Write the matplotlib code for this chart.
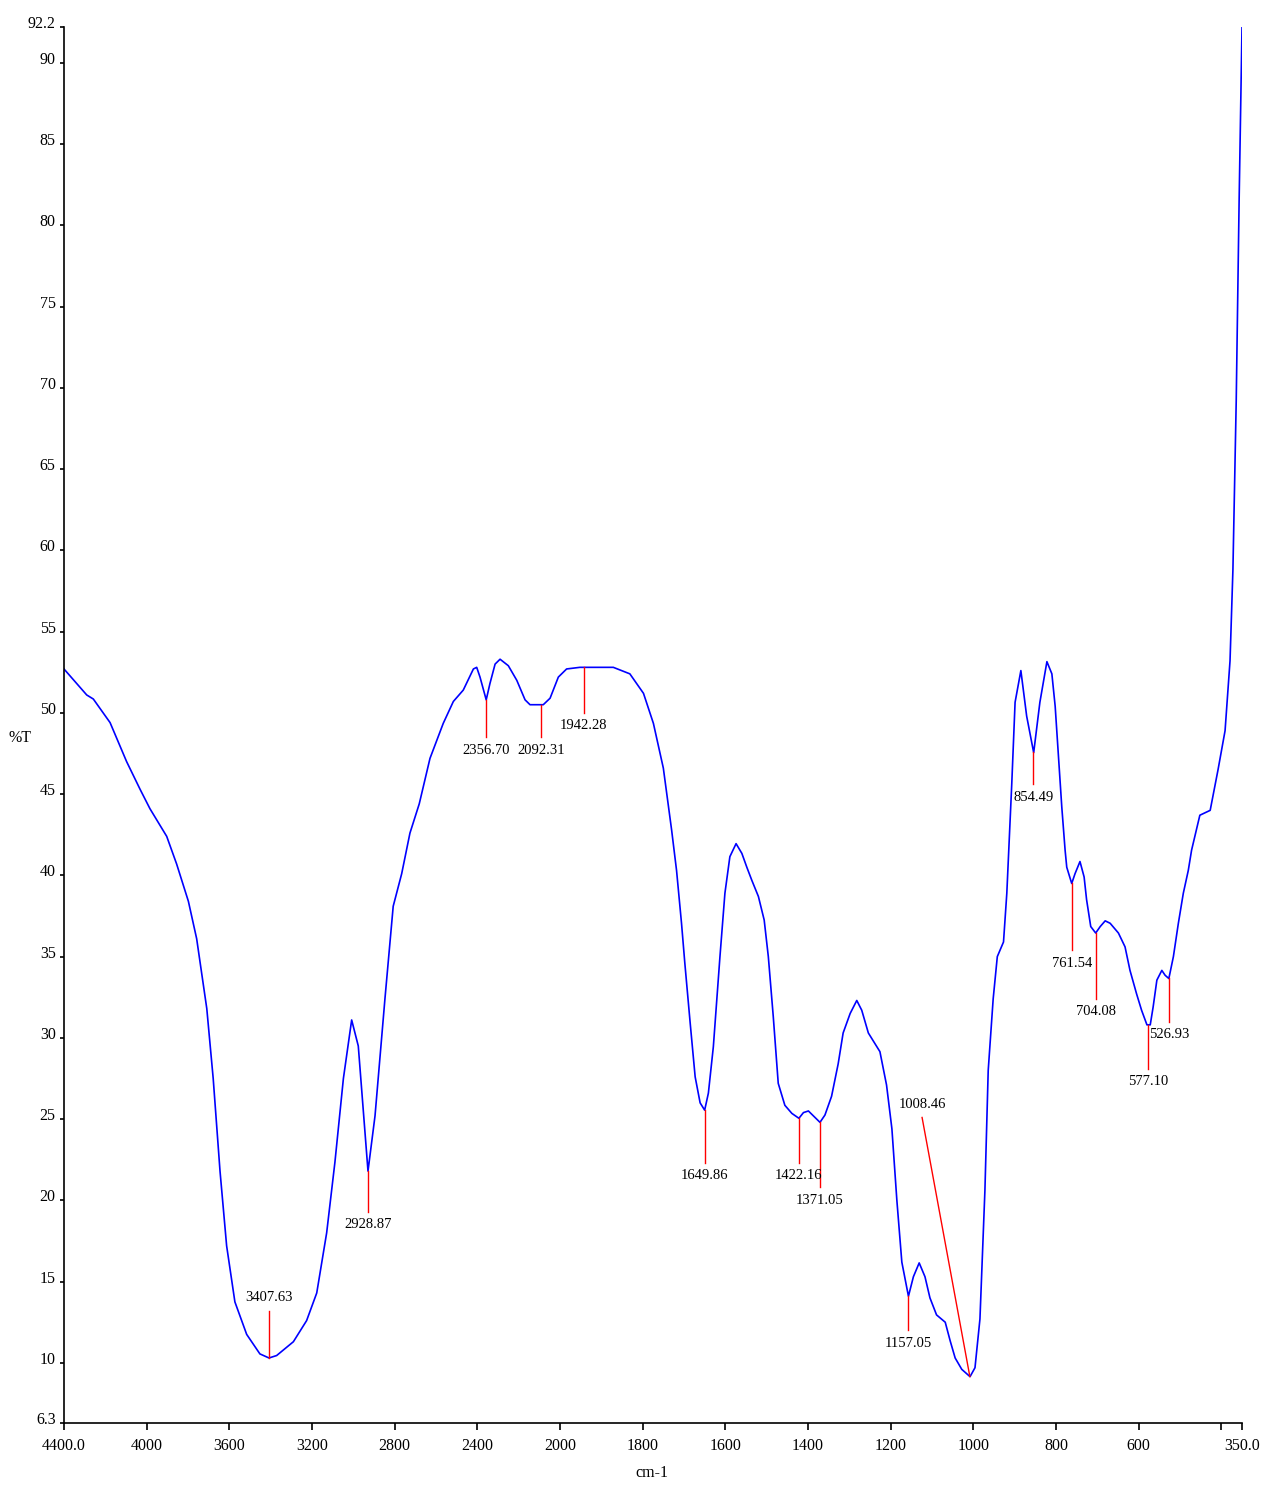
import numpy as np
import matplotlib
matplotlib.use("Agg")
import matplotlib.pyplot as plt
import matplotlib.transforms as mtransforms

plt.rcParams['font.family'] = ['Liberation Serif', 'DejaVu Serif']

# FTIR spectrum (wavenumber cm-1, %T)
wavenumber = [4400, 4290, 4258, 4177, 4097, 4032, 3984, 3903, 3855, 3798,
              3758, 3709, 3678, 3645, 3613, 3573, 3516, 3452, 3408, 3371,
              3290, 3226, 3177, 3129, 3089, 3048, 3008, 2976, 2929, 2895,
              2847, 2807, 2766, 2726, 2681,
              2629, 2565, 2516, 2468, 2419, 2403, 2387, 2357, 2339, 2314,
              2290, 2250, 2209, 2169, 2145, 2081, 2048, 2008, 1984, 1952,
              1871, 1831, 1798, 1774, 1750,
              1730, 1718, 1706, 1698, 1685, 1673, 1661, 1650, 1641, 1629,
              1613, 1601, 1589, 1574, 1560, 1548, 1536, 1520, 1506, 1496,
              1484, 1472, 1456, 1439, 1422, 1411, 1399, 1387, 1371, 1359,
              1343, 1327, 1315, 1298, 1282, 1270, 1254, 1238, 1226,
              1210, 1197, 1185, 1173, 1157, 1145, 1131, 1117, 1105, 1089,
              1068, 1056, 1044, 1028, 1008, 996, 984, 972, 964, 952,
              942, 927, 919, 907, 899, 885, 871, 854, 839, 822,
              810, 802, 794, 786,
              778, 774, 762, 754, 742, 732, 726, 716, 704, 693,
              681, 669, 649, 633, 621, 605, 593, 580, 572, 565,
              556, 544, 536, 527, 516, 504, 492, 480, 472,
              452, 427, 408, 391, 379, 372, 364, 357, 350]
transmittance = [52.7, 51.1, 50.85, 49.4, 47.0, 45.3, 44.1, 42.4, 40.7, 38.4,
                 36.1, 31.8, 27.5, 21.8, 17.2, 13.75, 11.75, 10.55, 10.3, 10.45,
                 11.3, 12.6, 14.3, 18.0, 22.35, 27.5, 31.1, 29.5, 21.8, 25.2,
                 32.4, 38.1, 40.1, 42.6, 44.4,
                 47.2, 49.35, 50.7, 51.4, 52.7, 52.8, 52.2, 50.8, 51.8, 53.0,
                 53.3, 52.9, 52.0, 50.8, 50.5, 50.5, 50.9, 52.2, 52.7, 52.8,
                 52.8, 52.4, 51.2, 49.35, 46.6,
                 42.8, 40.3, 37.05, 34.6, 30.9, 27.6, 26.0, 25.55, 26.6, 29.45,
                 35.0, 38.9, 41.15, 41.95, 41.35, 40.5, 39.7, 38.7, 37.25, 35.0,
                 31.3, 27.2, 25.85, 25.35, 25.05, 25.4, 25.5, 25.2, 24.8, 25.25,
                 26.4, 28.4, 30.3, 31.5, 32.3, 31.7, 30.3, 29.65, 29.15,
                 27.1, 24.4, 20.0, 16.2, 14.1, 15.3, 16.15, 15.3, 14.0, 12.95,
                 12.5, 11.35, 10.3, 9.6, 9.15, 9.7, 12.7, 20.6, 28.0, 32.4,
                 35.0, 35.9, 38.9, 45.65, 50.65, 52.6, 49.8, 47.55, 50.65, 53.15,
                 52.4, 50.4, 47.3, 44.2,
                 41.55, 40.5, 39.5, 40.1, 40.85, 39.9, 38.5, 36.85, 36.45, 36.85,
                 37.2, 37.05, 36.45, 35.6, 34.15, 32.7, 31.7, 30.8, 30.8, 31.9,
                 33.55, 34.15, 33.85, 33.65, 35.0, 37.05, 38.9, 40.3, 41.55,
                 43.7, 44.0, 46.5, 48.9, 53.2, 58.8, 69.2, 81.5, 92.2]

peak_labels = ['3407.63', '2928.87', '2356.70', '2092.31', '1942.28',
               '1649.86', '1422.16', '1371.05', '1157.05', '1008.46',
               '854.49', '761.54', '704.08', '577.10', '526.93']
peaks = [float(p) for p in peak_labels]

# where each red marker line ends (wavenumber, %T)
label_x = [3407.63, 2928.87, 2356.70, 2092.31, 1942.28, 1649.86, 1422.16,
           1371.05, 1157.05, 1124.0, 854.49, 761.54, 704.08, 577.10, 526.93]
label_y = [13.2, 19.3, 48.5, 48.5, 50.0, 22.3, 22.3, 20.8, 12.0, 25.1,
           45.6, 35.4, 32.4, 28.1, 31.0]

xticks = [4400, 4000, 3600, 3200, 2800, 2400, 2000, 1800, 1600, 1400,
          1200, 1000, 800, 600, 400, 350]
xtick_labels = ['4400.0', '4000', '3600', '3200', '2800', '2400', '2000',
                '1800', '1600', '1400', '1200', '1000', '800', '600', '', '350.0']
yticks = [6.3, 10, 15, 20, 25, 30, 35, 40, 45, 50, 55, 60, 65, 70, 75, 80,
          85, 90, 92.2]
ytick_labels = ['6.3', '10', '15', '20', '25', '30', '35', '40', '45', '50',
                '55', '60', '65', '70', '75', '80', '85', '90', '92.2']


# x axis is compressed by 2 above 2000 cm-1
def fwd(x):
    x = np.asarray(x, dtype=float)
    return np.where(x > 2000, 2000 + (x - 2000) / 2.0, x)


def inv(t):
    t = np.asarray(t, dtype=float)
    return np.where(t > 2000, 2000 + (t - 2000) * 2.0, t)


fig = plt.figure(figsize=(12.77, 14.88), dpi=100)
ax = fig.add_axes([0.0501, 0.0437, 0.9225, 0.9381])
ax.set_xscale('function', functions=(fwd, inv))

ax.plot(wavenumber, transmittance, color='#0000ff', lw=1.2)

wn_rev = wavenumber[::-1]
tr_rev = transmittance[::-1]
for lab, p, lx, ly in zip(peak_labels, peaks, label_x, label_y):
    py = np.interp(p, wn_rev, tr_rev)
    ax.plot([p, lx], [py, ly], color='#ff0000', lw=1.0)
    if ly > py:
        ax.text(lx, ly + 0.4, lab, ha='center', va='bottom', fontsize=10.5)
    else:
        ax.text(lx, ly - 0.4, lab, ha='center', va='top', fontsize=10.5)

ax.set_xlim(4400, 350)
ax.set_ylim(6.3, 92.2)
ax.set_xticks(xticks)
ax.set_xticklabels(xtick_labels, fontsize=11.5)
ax.set_yticks(yticks)
ax.set_yticklabels(ytick_labels, fontsize=11.5)
ax.minorticks_off()
ax.tick_params(axis='x', direction='out', length=5, width=1.2, pad=6)
ax.tick_params(axis='y', direction='out', length=3, width=1.2, pad=3)

# y tick labels sit a little above their ticks
shift = mtransforms.ScaledTranslation(0, 5 / 100.0, fig.dpi_scale_trans)
for lbl in ax.get_yticklabels():
    lbl.set_transform(lbl.get_transform() + shift)

for s in ['top', 'right']:
    ax.spines[s].set_visible(False)
for s in ['left', 'bottom']:
    ax.spines[s].set_linewidth(1.2)

fig.text(20 / 1277, 1 - 738 / 1488, '%T', fontsize=11.5, ha='center', va='center')
fig.text(652 / 1277, 1 - 1473 / 1488, 'cm-1', fontsize=11.5, ha='center', va='center')

fig.savefig('out.png', dpi=100)
plt.close()
